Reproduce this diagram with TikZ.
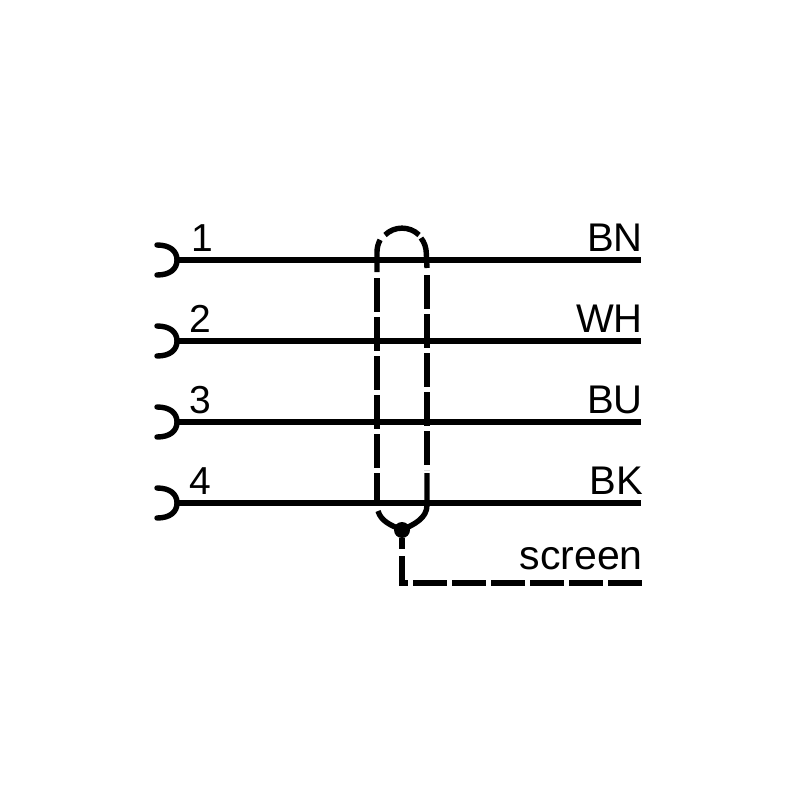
\documentclass[tikz,border=0pt]{standalone}
\usepackage{fontspec}
\setmainfont{Liberation Sans}
\begin{document}
\begin{tikzpicture}[x=1pt,y=-1pt,
  wire/.style={line width=5.4pt,draw=black},
  shield/.style={line width=5.4pt,draw=black},
  hook/.style={line width=5.4pt,draw=black,line cap=round},
  pin/.style={inner sep=0pt,anchor=base west,font=\fontsize{39}{39}\selectfont},
  colour/.style={inner sep=0pt,anchor=base east,font=\fontsize{40}{40}\selectfont},
  joint/.style={circle,fill=black,inner sep=0pt,minimum size=16pt}]
\useasboundingbox (0,0) rectangle (800,800);
\fill[white] (0,0) rectangle (800,800);
% end points of the wires
\foreach \n/\y in {1/260,2/341,3/422,4/503}{
  \coordinate (a\n) at (177,\y);
  \coordinate (b\n) at (641,\y);
  \draw[wire] (a\n) -- (b\n);
  \draw[hook] (157,\y-15) .. controls (170,\y-15) and (177,\y-9) .. (a\n) .. controls (177,\y+9) and (170,\y+15) .. (157,\y+15);
}
% labels
\node[pin] (p1) at (191,251) {1};
\node[pin] (p2) at (189,332) {2};
\node[pin] (p3) at (189,413) {3};
\node[pin] (p4) at (189,494) {4};
\node[colour] (c1) at (643,251) {BN};
\node[colour] (c2) at (643,332) {WH};
\node[colour] (c3) at (643,413) {BU};
\node[colour] (c4) at (643,494) {BK};
\node[colour,font=\fontsize{41}{41}\selectfont] (c5) at (643,569) {screen};
% screen loop
\draw[shield] (377,272) -- (377,252) arc[start angle=180,end angle=209,radius=25];
\draw[shield] (385,235) arc[start angle=226,end angle=314,radius=24.5];
\draw[shield] (421,238) arc[start angle=-38,end angle=0,radius=25] -- (427,268);
\draw[shield,dash pattern=on 34pt off 5pt] (377,278) -- (377,505);
\draw[shield,dash pattern=on 34pt off 5pt] (427,275) -- (427,470);
\draw[shield] (427,473) -- (427,505) .. controls (427,518) and (415,524) .. (402,530);
\draw[shield] (378,511) .. controls (381,521) and (390,525) .. (402,530);
\node[joint] (dot) at (402,530) {};
% drain
\coordinate (corner) at (402,583);
\coordinate (drainend) at (642,583);
\draw[shield] (dot) -- (402,549);
\draw[shield] (402,556) -- (402,585.7);
\draw[shield] (402,583) -- (408,583);
\draw[shield,dash pattern=on 34pt off 5pt] (413,583) -- (drainend);
\end{tikzpicture}
\end{document}
